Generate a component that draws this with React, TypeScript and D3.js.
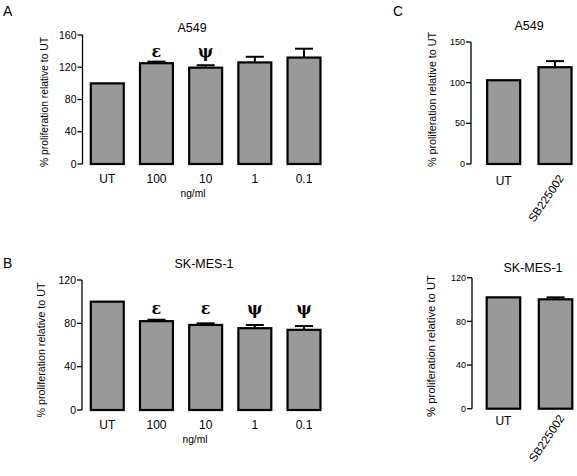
import React from "react";
import * as d3 from "d3";

// ---------- data ----------
const doseCategories = ["UT", "100", "10", "1", "0.1"];
const a549DoseValues = [100, 125, 119.5, 126, 132];
const a549DoseErrors = [0, 2, 3, 7, 11];
const a549DoseMarks = ["", "ε", "ψ", "", ""];
const a549DoseTicks = [0, 40, 80, 120, 160];

const skmesDoseValues = [100, 82, 78.5, 75.5, 74];
const skmesDoseErrors = [0, 1.3, 1.5, 3, 3.5];
const skmesDoseMarks = ["", "ε", "ε", "ψ", "ψ"];
const skmesDoseTicks = [0, 40, 80, 120];

const sbCategories = ["UT", "SB225002"];
const a549SbValues = [103, 119];
const a549SbErrors = [0, 7.5];
const a549SbTicks = [0, 50, 100, 150];

const skmesSbValues = [102, 100.2];
const skmesSbErrors = [0, 1.8];
const skmesSbTicks = [0, 40, 80, 120];

const yLabel = "% proliferation relative to UT";
const font = "'Liberation Sans', Arial, sans-serif";

type PanelProps = {
  title: string;
  titleX: number;
  titleY: number;
  categories: string[];
  values: number[];
  errors: number[];
  marks?: string[];
  marksY?: number;
  ticks: number[];
  yMax: number;
  yRange: [number, number];
  xRange: [number, number];
  padInner: number;
  axisX: number;
  tickFont: number;
  yLabelX: number;
  yLabelY: number;
  yLabelLen: number;
  xLabelY: number;
  rotateLast?: boolean;
  unit?: string;
  unitX?: number;
  unitY?: number;
};

function Panel(p: PanelProps) {
  const y = d3.scaleLinear().domain([0, p.yMax]).range(p.yRange);
  const x = d3
    .scaleBand<string>()
    .domain(p.categories)
    .range(p.xRange)
    .paddingInner(p.padInner)
    .paddingOuter(p.padInner / 2);
  const bw = x.bandwidth();
  const cx = (c: string) => (x(c) as number) + bw / 2;
  return (
    <g fontFamily={font}>
      <text x={p.titleX} y={p.titleY} textAnchor="middle" fontSize={12.5}>
        {p.title}
      </text>
      {/* y axis */}
      <line
        x1={p.axisX}
        x2={p.axisX}
        y1={y(p.yMax)}
        y2={y(0)}
        stroke="#000"
        strokeWidth={1.3}
      />
      {p.ticks.map((t) => (
        <g key={t}>
          <line
            x1={p.axisX - 5}
            x2={p.axisX}
            y1={y(t)}
            y2={y(t)}
            stroke="#000"
            strokeWidth={1.3}
          />
          <text
            x={p.axisX - 6}
            y={y(t)}
            dy="0.35em"
            textAnchor="end"
            fontSize={p.tickFont}
          >
            {t}
          </text>
        </g>
      ))}
      <text
        transform={`translate(${p.yLabelX},${p.yLabelY}) rotate(-90)`}
        textAnchor="middle"
        dy="0.35em"
        fontSize={11}
        textLength={p.yLabelLen}
        lengthAdjust="spacingAndGlyphs"
      >
        {yLabel}
      </text>
      {/* bars */}
      {p.categories.map((c, i) => {
        const top = y(p.values[i]);
        const e = p.errors[i];
        return (
          <g key={c}>
            {e > 0 && (
              <g stroke="#000" strokeWidth={2}>
                <line x1={cx(c)} x2={cx(c)} y1={top} y2={y(p.values[i] + e)} />
                <line
                  x1={cx(c) - 9}
                  x2={cx(c) + 9}
                  y1={y(p.values[i] + e)}
                  y2={y(p.values[i] + e)}
                />
              </g>
            )}
            <rect
              x={x(c)}
              y={top}
              width={bw}
              height={y(0) - top}
              fill="#999999"
              stroke="#000"
              strokeWidth={2.2}
            />
            {p.marks && p.marks[i] && (
              <text
                x={cx(c)}
                y={p.marksY}
                textAnchor="middle"
                fontSize={16}
                fontWeight="bold"
                fontFamily="'DejaVu Serif', 'Liberation Serif', serif"
              >
                {p.marks[i]}
              </text>
            )}
            {p.rotateLast && i === p.categories.length - 1 ? (
              <text
                transform={`translate(${cx(c) + 6},${p.xLabelY - 9}) rotate(-56)`}
                textAnchor="end"
                dy="0.35em"
                fontSize={11.5}
              >
                {c}
              </text>
            ) : (
              <text x={cx(c)} y={p.xLabelY} textAnchor="middle" fontSize={12}>
                {c}
              </text>
            )}
          </g>
        );
      })}
      {p.unit && (
        <text
          x={p.unitX}
          y={p.unitY}
          textAnchor="middle"
          fontSize={11.5}
          textLength={25}
          lengthAdjust="spacingAndGlyphs"
        >
          {p.unit}
        </text>
      )}
    </g>
  );
}

export default function App() {
  return (
    <svg
      width={577}
      height={476}
      style={{ position: "absolute", left: 0, top: 0, background: "#fff" }}
    >
      <rect width={577} height={476} fill="#fff" />
      <g fontFamily={font} fontSize={14}>
        <text x={3} y={16}>A</text>
        <text x={3} y={268}>B</text>
        <text x={393} y={16}>C</text>
      </g>
      <Panel
        title="A549"
        titleX={192}
        titleY={32}
        categories={doseCategories}
        values={a549DoseValues}
        errors={a549DoseErrors}
        marks={a549DoseMarks}
        marksY={57}
        ticks={a549DoseTicks}
        yMax={160}
        yRange={[164, 35]}
        xRange={[82.7, 328.6]}
        padInner={0.33}
        axisX={82.5}
        tickFont={10.5}
        yLabelX={44}
        yLabelY={102}
        yLabelLen={130}
        xLabelY={183}
        unit="ng/ml"
        unitX={193}
        unitY={197}
      />
      <Panel
        title="SK-MES-1"
        titleX={204}
        titleY={268}
        categories={doseCategories}
        values={skmesDoseValues}
        errors={skmesDoseErrors}
        marks={skmesDoseMarks}
        marksY={314}
        ticks={skmesDoseTicks}
        yMax={120}
        yRange={[410, 280]}
        xRange={[82.7, 328.6]}
        padInner={0.33}
        axisX={82}
        tickFont={10.5}
        yLabelX={41.5}
        yLabelY={350}
        yLabelLen={135}
        xLabelY={429}
        unit="ng/ml"
        unitX={195}
        unitY={443}
      />
      <Panel
        title="A549"
        titleX={529}
        titleY={30}
        categories={sbCategories}
        values={a549SbValues}
        errors={a549SbErrors}
        ticks={a549SbTicks}
        yMax={150}
        yRange={[164, 42]}
        xRange={[478, 580.7]}
        padInner={0.357}
        axisX={471}
        tickFont={9}
        yLabelX={432.5}
        yLabelY={99.5}
        yLabelLen={135}
        xLabelY={185}
        rotateLast
      />
      <Panel
        title="SK-MES-1"
        titleX={533}
        titleY={271.5}
        categories={sbCategories}
        values={skmesSbValues}
        errors={skmesSbErrors}
        ticks={skmesSbTicks}
        yMax={120}
        yRange={[408.7, 277.7]}
        xRange={[477.4, 581.6]}
        padInner={0.357}
        axisX={472}
        tickFont={9}
        yLabelX={431}
        yLabelY={346}
        yLabelLen={142}
        xLabelY={425}
        rotateLast
      />
    </svg>
  );
}
